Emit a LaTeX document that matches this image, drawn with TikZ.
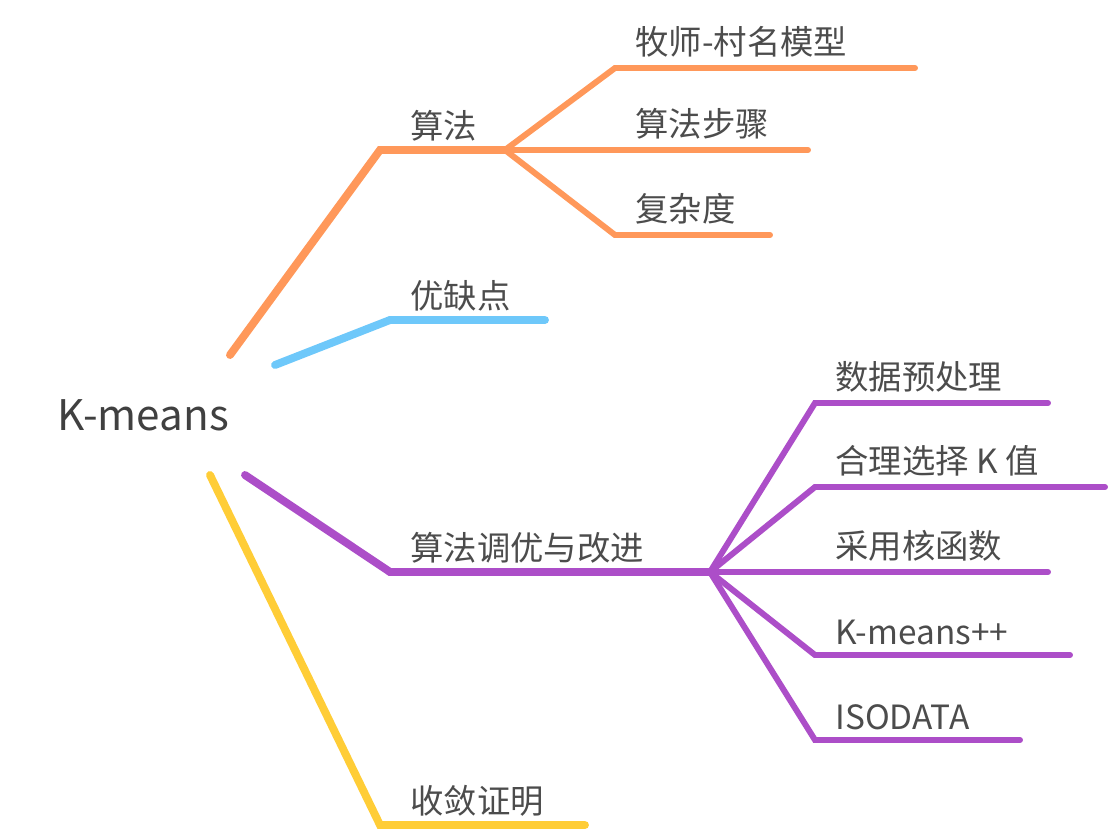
\documentclass[tikz,border=0pt]{standalone}
\usepackage{fontspec}
\setmainfont{Noto Sans CJK SC}
\begin{document}
\begin{tikzpicture}[x=0.02cm,y=-0.02cm,
  lbl/.style={anchor=south west,inner sep=0pt,font=\fontsize{19}{19}\selectfont,text=black!70},
  br/.style={line width=4.5pt,line cap=round},
  sub/.style={line width=3.4pt,line cap=round}]
\definecolor{corange}{RGB}{255,152,90}
\definecolor{cblue}{RGB}{110,200,250}
\definecolor{cpurple}{RGB}{172,78,200}
\definecolor{cyellow}{RGB}{255,205,55}
\useasboundingbox (0,0) rectangle (1110,832);
% #1 start, #2 bend end, #3 line end, #4 style
\def\twig#1#2#3#4{
\draw[#4] (#1) .. controls ($(#1)!0.5!(#2)$ |- #1) and ($(#1)!0.5!(#2)$ |- #2) .. (#2) -- (#3);
}
\usetikzlibrary{calc}
\node[inner sep=0pt,font=\fontsize{24}{24}\selectfont,text=black!75] (root) at (143,415) {K-means};
% main branch ends
\coordinate (oS) at (230,355); \coordinate (oB) at (380,150); \coordinate (oE) at (505,150);
\coordinate (bS) at (275,365); \coordinate (bB) at (390,320); \coordinate (bE) at (545,320);
\coordinate (pS) at (245,475); \coordinate (pB) at (390,572); \coordinate (pE) at (710,572);
\coordinate (yS) at (210,475); \coordinate (yB) at (380,825); \coordinate (yE) at (585,825);
\twig{oS}{oB}{oE}{br,corange}
\twig{bS}{bB}{bE}{br,cblue}
\twig{pS}{pB}{pE}{br,cpurple}
\twig{yS}{yB}{yE}{br,cyellow}
\node[lbl] (alg) at (410,142) {算法};
\node[lbl] (pros) at (410,312) {优缺点};
\node[lbl] (tune) at (410,564) {算法调优与改进};
\node[lbl] (conv) at (410,817) {收敛证明};
% orange children
\foreach \y/\e/\t [count=\i] in {68/915/牧师-村名模型,150/808/算法步骤,235/770/复杂度}{
  \coordinate (oc\i) at (615,\y); \coordinate (oe\i) at (\e,\y);
  \twig{oE}{oc\i}{oe\i}{sub,corange}
  \node[lbl] (ot\i) at (635,\y-10) {\t};
}
% purple children
\foreach \y/\e/\t [count=\i] in {403/1048/数据预处理,487/1105/合理选择 K 值,572/1048/采用核函数,655/1070/K-means++,740/1020/ISODATA}{
  \coordinate (pc\i) at (815,\y); \coordinate (pe\i) at (\e,\y);
  \twig{pE}{pc\i}{pe\i}{sub,cpurple}
  \node[lbl] (pt\i) at (835,\y-10) {\t};
}
\end{tikzpicture}
\end{document}
